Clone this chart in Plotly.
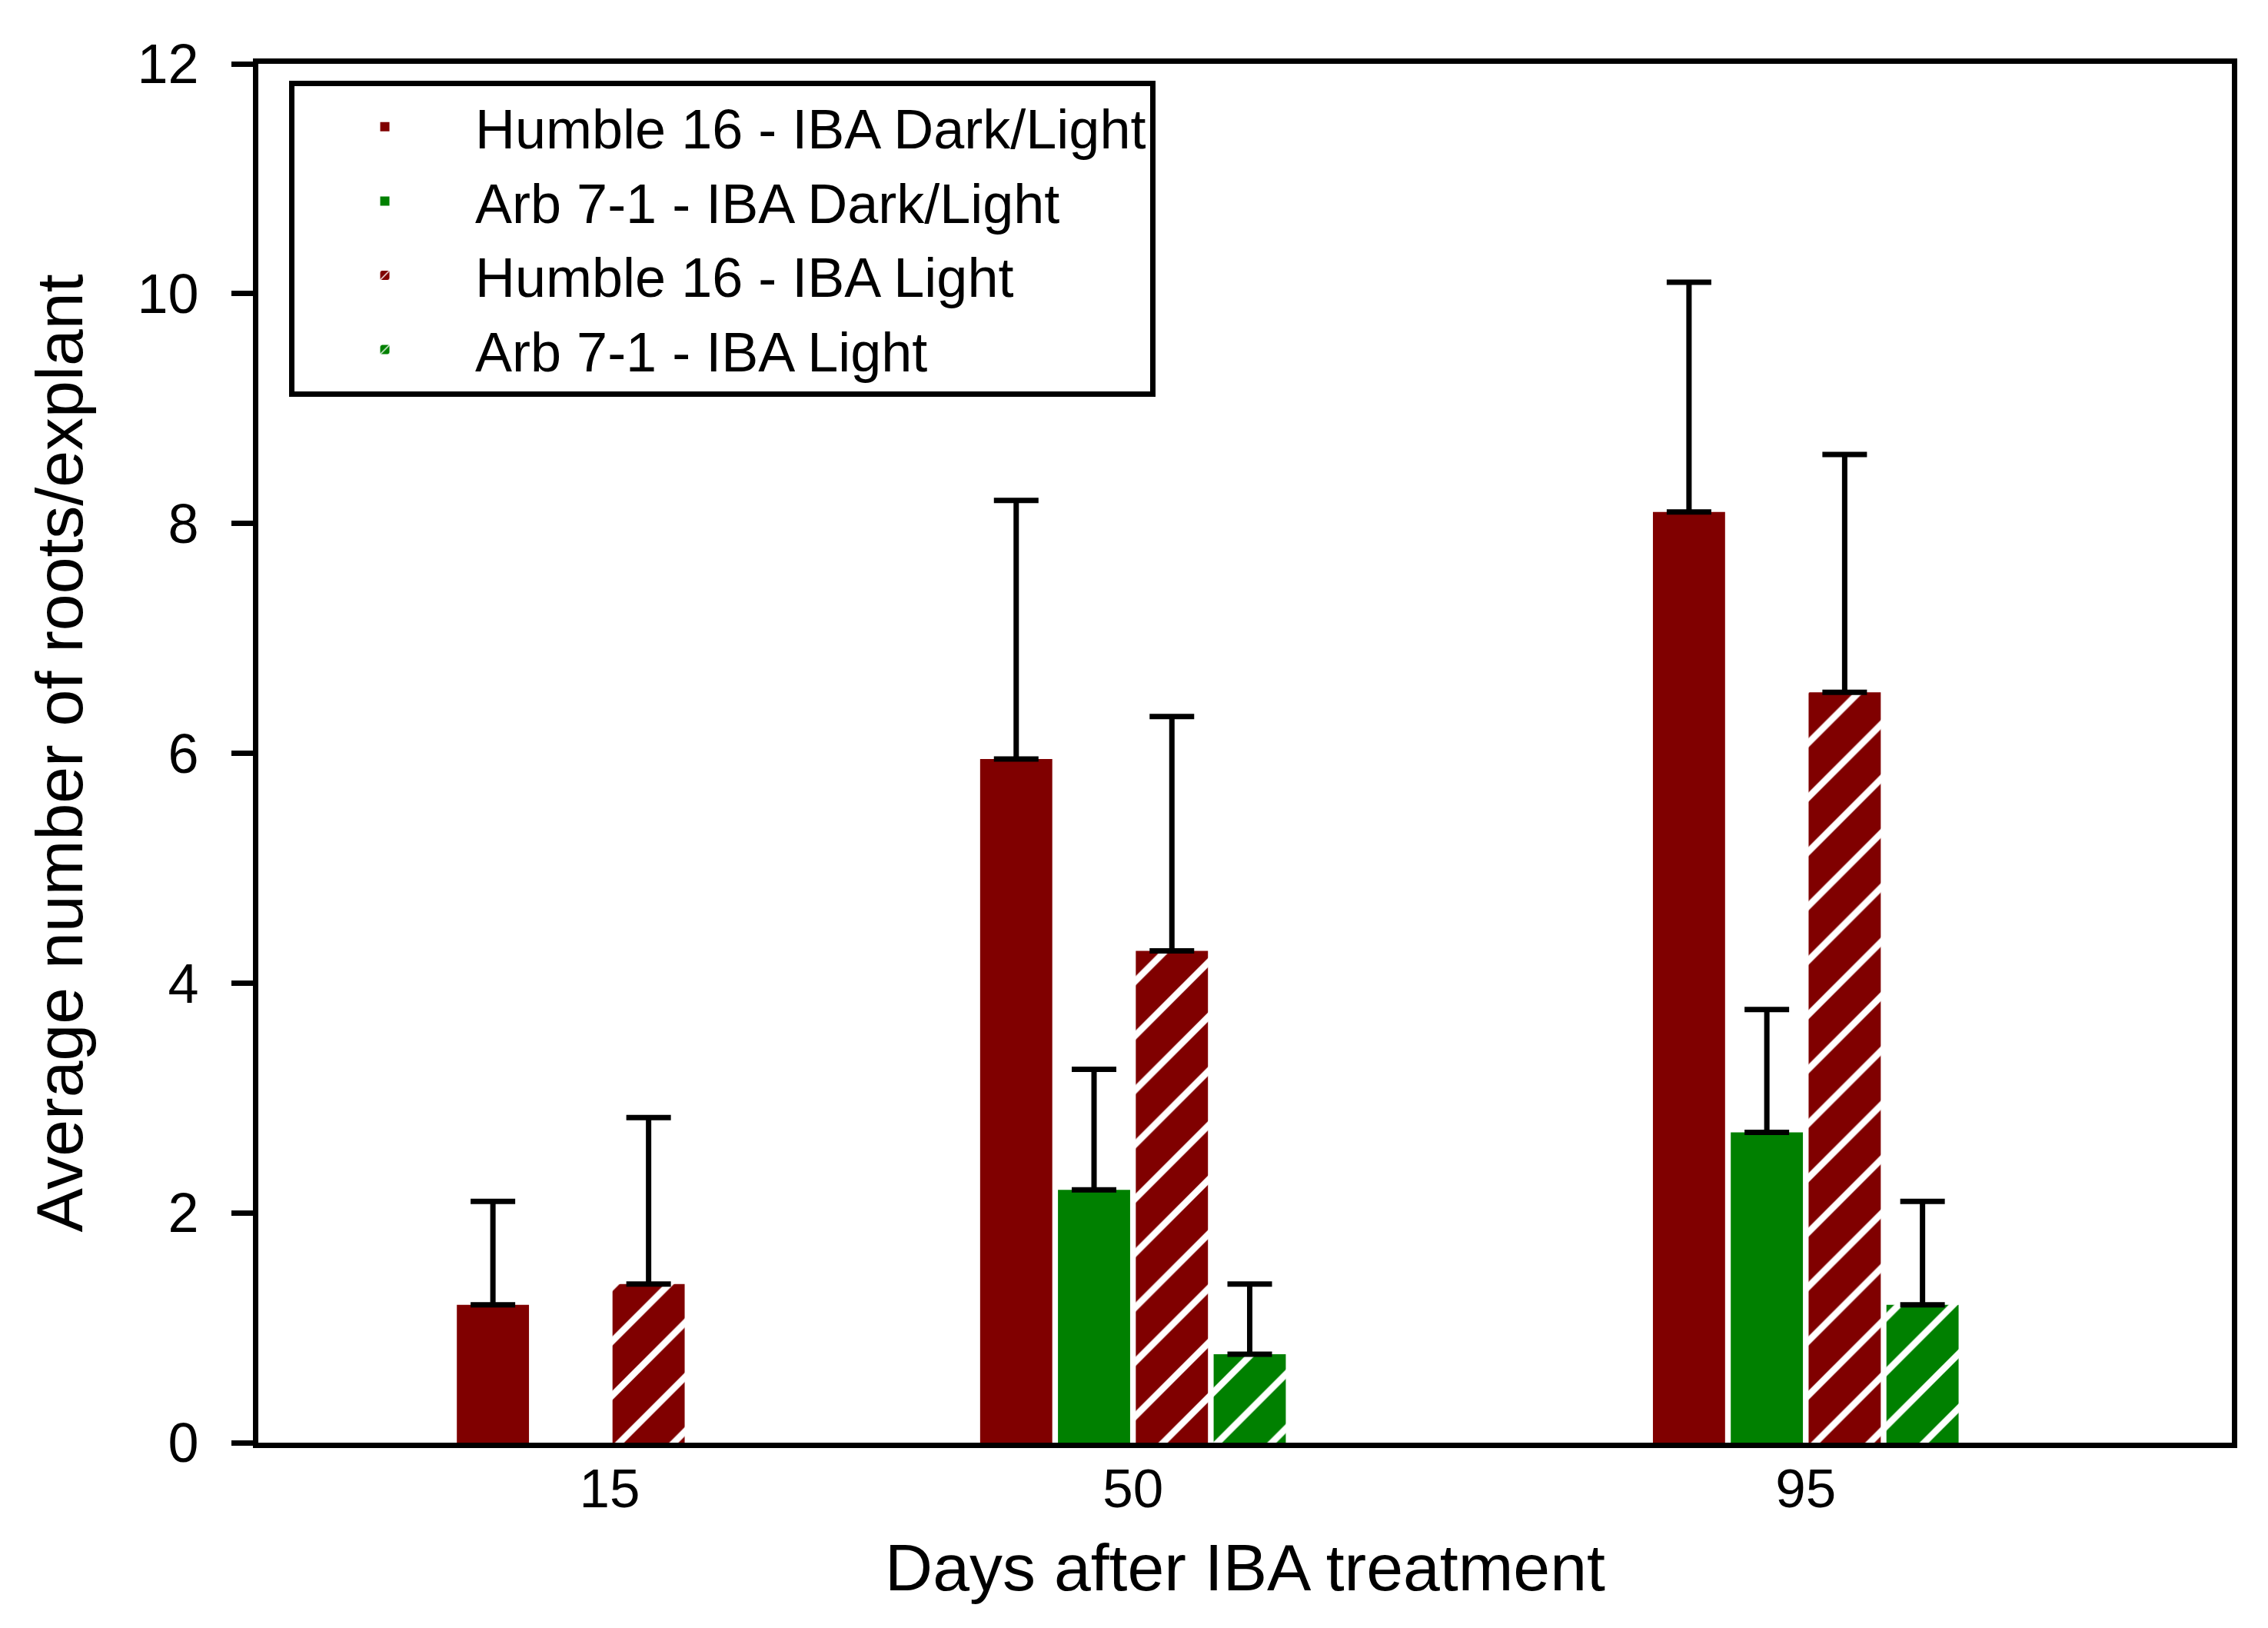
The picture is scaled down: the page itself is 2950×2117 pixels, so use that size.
import plotly.graph_objects as go

# Days after IBA treatment
days = [15, 50, 95]

# Mean roots per explant and upper error
humble_dl = [1.2, 5.95, 8.1]
humble_dl_err = [0.9, 2.25, 2.0]
arb_dl = [None, 2.2, 2.7]
arb_dl_err = [None, 1.05, 1.07]
humble_l = [1.38, 4.28, 6.53]
humble_l_err = [1.45, 2.04, 2.07]
arb_l = [None, 0.77, 1.2]
arb_l_err = [None, 0.61, 0.9]

names = ["Humble 16 - IBA Dark/Light", "Arb 7-1 - IBA Dark/Light",
         "Humble 16 - IBA Light", "Arb 7-1 - IBA Light"]

RED = "#800000"
GREEN = "#008000"
FONT = "Liberation Sans, Arial, sans-serif"


def bar(name, y, err, color, hatched):
    pattern = dict(shape="/", fgcolor="white", bgcolor=color, fgopacity=1,
                   size=50, solidity=0.17) if hatched else None
    return go.Bar(
        x=days, y=y, name=name,
        marker=dict(color=color, line=dict(width=0), pattern=pattern),
        error_y=dict(type="data", symmetric=False, array=err,
                     arrayminus=[0] * len(err), color="black", thickness=7, width=29),
    )


fig = go.Figure()
fig.add_trace(bar(names[0], humble_dl, humble_dl_err, RED, False))
fig.add_trace(bar(names[1], arb_dl, arb_dl_err, GREEN, False))
fig.add_trace(bar(names[2], humble_l, humble_l_err, RED, True))
fig.add_trace(bar(names[3], arb_l, arb_l_err, GREEN, True))

fig.update_layout(
    width=2950, height=2117,
    margin=dict(l=328, r=55, t=75, b=249),
    paper_bgcolor="white", plot_bgcolor="white",
    font=dict(family=FONT, color="black", size=70),
    barmode="group", bargap=0.405, bargroupgap=0.073,
    showlegend=True,
    legend=dict(
        x=0.0156, y=0.988, xanchor="left", yanchor="top",
        bordercolor="black", borderwidth=7, bgcolor="white",
        font=dict(size=72), itemwidth=225,
    ),
)
fig.update_xaxes(
    range=[-8.5, 123.5], tickvals=days, ticktext=[str(d) for d in days],
    ticks="", ticklabelstandoff=-8,
    showline=True, linecolor="black", linewidth=7, mirror=True,
    showgrid=False, zeroline=False,
    tickfont=dict(size=71),
    title=dict(text="Days after IBA treatment", font=dict(size=86), standoff=36),
)
fig.update_yaxes(
    range=[0, 12], tickvals=[0, 2, 4, 6, 8, 10, 12],
    ticks="outside", ticklen=28, tickwidth=7, tickcolor="black",
    ticklabelstandoff=28,
    showline=True, linecolor="black", linewidth=7, mirror=True,
    showgrid=False, zeroline=False,
    tickfont=dict(size=72),
    title=dict(text="Average number of roots/explant", font=dict(size=86), standoff=45),
)

fig.write_html("out.html")
